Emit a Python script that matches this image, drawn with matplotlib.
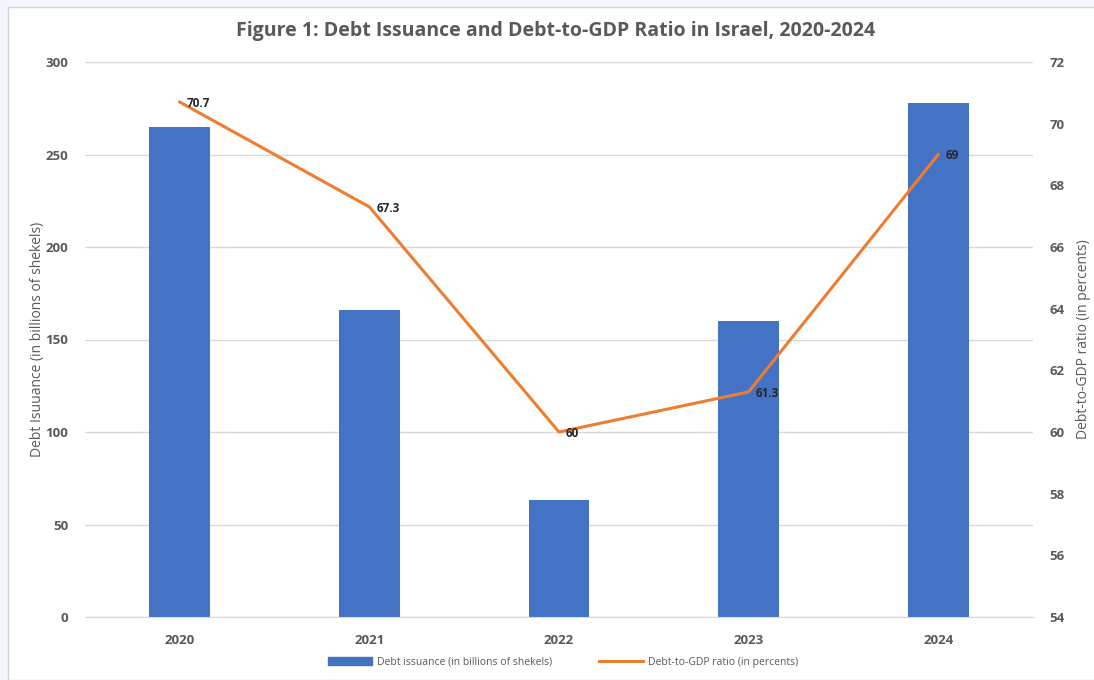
import matplotlib.pyplot as plt
from matplotlib.patches import Rectangle
from matplotlib.lines import Line2D

years = ["2020", "2021", "2022", "2023", "2024"]
issuance = [265, 166, 63, 160, 278]
ratio = [70.7, 67.3, 60, 61.3, 69]
ratio_labels = ["70.7", "67.3", "60", "61.3", "69"]

blue = "#4472C4"
orange = "#ED7D31"
grey = "#595959"

plt.rcParams["font.family"] = ["Open Sans", "DejaVu Sans"]

fig = plt.figure(figsize=(10.94, 6.8), dpi=100)
fig.patch.set_facecolor("#F3F7FD")
# white chart panel with thin border, kept behind the axes
fig.patches.append(Rectangle((8 / 1094, 0), 1.0, 1 - 7 / 680, transform=fig.transFigure,
                             facecolor="white", edgecolor="#D0D4DA", linewidth=1.0, zorder=-5))

ax = fig.add_axes([85 / 1094, 1 - 617 / 680, (1033 - 85) / 1094, (617 - 62) / 680])
ax.set_facecolor("none")
x = range(len(years))
ax.bar(x, issuance, width=0.32, color=blue, zorder=2)
ax.set_ylim(0, 300)
ax.set_yticks(range(0, 301, 50))
ax.set_xlim(-0.5, 4.5)
ax.set_xticks(list(x))
ax.set_xticklabels(years)
ax.grid(axis="y", color="#D9D9D9", linewidth=1.0, zorder=0)
ax.set_axisbelow(True)
for s in ["top", "right", "left"]:
    ax.spines[s].set_visible(False)
ax.spines["bottom"].set_color("#D9D9D9")
ax.tick_params(length=0, colors=grey, labelsize=9.5, pad=12)
for lab in ax.get_xticklabels() + ax.get_yticklabels():
    lab.set_fontweight("bold")
ax.set_ylabel("Debt Isuuance (in billions of shekels)", color=grey, fontsize=10, labelpad=0)

ax2 = ax.twinx()
ax2.plot(list(x), ratio, color=orange, linewidth=2.2, zorder=3)
ax2.set_ylim(54, 72)
ax2.set_yticks(range(54, 73, 2))
for s in ax2.spines.values():
    s.set_visible(False)
ax2.tick_params(length=0, colors=grey, labelsize=9.5, pad=12)
for lab in ax2.get_yticklabels():
    lab.set_fontweight("bold")
ax2.set_ylabel("Debt-to-GDP ratio (in percents)", color=grey, fontsize=10, labelpad=8)
for xi, v, t in zip(x, ratio, ratio_labels):
    ax2.annotate(t, (xi, v), xytext=(5, -1), textcoords="offset points",
                 ha="left", va="center", fontsize=8.5, fontweight="bold", color="#262626")

fig.suptitle("Figure 1: Debt Issuance and Debt-to-GDP Ratio in Israel, 2020-2024",
             x=0.508, y=1 - 31 / 680, va="center", fontsize=14, fontweight="bold", color=grey)

handles = [Rectangle((0, 0), 1, 1, color=blue),
           Line2D([0], [0], color=orange, linewidth=2.2)]
fig.legend(handles, ["Debt issuance (in billions of shekels)", "Debt-to-GDP ratio (in percents)"],
           loc="center", bbox_to_anchor=(0.515, 1 - 662 / 680), ncol=2, frameon=False,
           fontsize=7.5, labelcolor=grey, handlelength=4.2, handleheight=0.7,
           handletextpad=0.5, columnspacing=4.5)

fig.savefig("out.png", dpi=100, facecolor=fig.get_facecolor())
